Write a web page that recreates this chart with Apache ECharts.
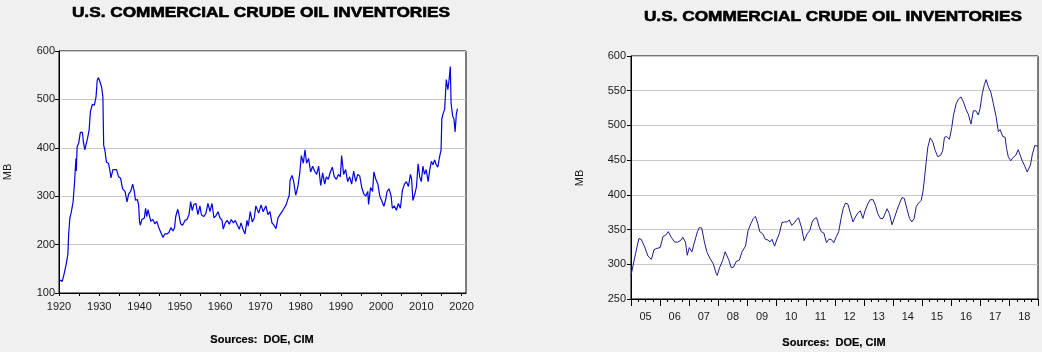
<!DOCTYPE html>
<html>
<head>
<meta charset="utf-8">
<script src="https://cdn.jsdelivr.net/npm/echarts@6/dist/echarts.min.js"></script>
<style>
html,body{margin:0;padding:0;background:#f0f0f0;}
#c{width:1042px;height:352px;}
</style>
</head>
<body>
<div id="c"></div>
<script>
// ---- DATA ----
const titleText = 'U.S. COMMERCIAL CRUDE OIL INVENTORIES';
const sourceText = 'Sources:  DOE, CIM';
const unitText = 'MB';

// Left chart: long history (decimal year, million barrels)
const longYears = [
1920.0,1920.4,1920.8,1921.2,1921.6,1921.8,1922.2,1922.4,1922.7,1923.0,1923.3,1923.5,1923.9,1924.2,1924.3,1924.5,1924.9,1925.3,1925.8,1926.1,
1926.4,1926.8,1927.1,1927.5,1927.8,1928.3,1928.8,1929.2,1929.5,1929.8,1930.2,1930.6,1930.9,1931.1,1931.4,1931.8,1932.3,1932.7,1932.9,1933.4,
1933.7,1934.3,1934.8,1935.3,1935.8,1936.4,1936.9,1937.3,1937.8,1938.3,1938.7,1939.0,1939.5,1939.8,1940.0,1940.2,1940.6,1941.2,1941.5,1941.8,
1942.1,1942.3,1942.8,1943.3,1943.8,1944.3,1944.8,1945.3,1945.8,1946.3,1946.8,1947.3,1947.8,1948.3,1948.7,1949.0,1949.5,1949.8,1950.2,1950.7,
1951.0,1951.3,1951.8,1952.3,1952.7,1953.1,1953.5,1954.0,1954.5,1955.0,1955.3,1955.5,1956.0,1956.5,1957.0,1957.5,1958.0,1958.5,1959.0,1959.5,
1960.0,1960.5,1960.8,1961.3,1961.8,1962.3,1962.8,1963.3,1963.8,1964.3,1964.8,1965.2,1965.7,1966.2,1966.7,1967.0,1967.5,1968.0,1968.5,1968.9,
1969.6,1970.2,1970.7,1971.4,1971.9,1972.4,1972.9,1973.4,1973.9,1974.4,1974.9,1975.4,1975.9,1976.4,1976.9,1977.2,1977.4,1977.9,1978.3,1978.8,
1979.3,1979.8,1980.2,1980.7,1981.1,1981.5,1982.0,1982.5,1983.0,1983.5,1984.0,1984.5,1985.0,1985.5,1986.0,1986.4,1986.9,1987.4,1987.9,1988.4,
1988.9,1989.4,1989.9,1990.2,1990.7,1991.2,1991.7,1992.2,1992.7,1993.2,1993.7,1994.2,1994.7,1995.2,1995.7,1996.2,1996.7,1996.9,1997.4,1997.9,
1998.2,1998.7,1999.2,1999.7,2000.2,2000.7,2001.2,2001.5,2002.0,2002.5,2002.8,2003.3,2003.8,2004.3,2004.8,2005.3,2005.8,2006.3,2006.8,2007.3,
2007.6,2007.9,2008.4,2008.8,2009.2,2009.6,2010.0,2010.4,2010.8,2011.2,2011.7,2012.1,2012.5,2012.9,2013.3,2013.7,2014.1,2014.5,2014.9,2015.1,
2015.4,2015.8,2016.2,2016.6,2016.9,2017.2,2017.4,2017.8,2018.1,2018.4,2018.7,2019.0];
const longValues = [
128,130,124,137,140,160,180,222,255,265,264,288,333,378,352,402,410,432,432,410,
396,400,420,438,475,490,488,505,540,545,536,525,505,405,395,370,368,350,338,355,
358,355,340,337,315,310,288,305,310,325,310,292,293,280,248,240,252,255,275,258,
272,268,248,252,243,248,235,225,215,222,222,225,235,228,235,258,273,262,243,240,
237,250,252,262,289,270,283,285,262,280,265,260,258,265,285,268,285,255,260,268,
255,250,232,245,250,242,252,245,250,240,232,245,232,222,250,238,268,247,255,280,
265,282,268,280,262,268,245,240,233,255,262,268,275,282,295,302,333,343,330,302,
318,347,384,368,396,368,378,350,362,352,345,362,322,348,325,340,335,350,360,340,
335,345,340,384,345,355,330,340,325,352,330,345,342,318,305,300,310,283,318,310,
350,335,325,300,290,279,295,310,315,300,275,280,271,285,275,312,325,330,320,345,
335,291,305,320,367,340,330,362,345,355,330,355,372,365,375,365,360,380,395,460,
470,480,541,520,540,568,491,465,460,433,470,481];

// Right chart: 2005-2018 detail (decimal year, million barrels)
const recentYears = [
2005.00,2005.06,2005.16,2005.27,2005.35,2005.47,2005.58,2005.70,2005.79,2005.89,2006.00,2006.10,2006.19,2006.28,2006.38,2006.50,2006.61,2006.72,2006.78,2006.87,
2006.93,2007.00,2007.09,2007.18,2007.28,2007.35,2007.43,2007.52,2007.61,2007.72,2007.83,2007.92,2007.96,2008.04,2008.15,2008.23,2008.29,2008.36,2008.44,2008.52,
2008.61,2008.72,2008.81,2008.93,2009.02,2009.12,2009.20,2009.27,2009.35,2009.42,2009.52,2009.61,2009.70,2009.77,2009.84,2009.93,2010.00,2010.09,2010.18,2010.27,
2010.37,2010.43,2010.52,2010.61,2010.68,2010.75,2010.86,2010.94,2011.05,2011.14,2011.22,2011.30,2011.37,2011.46,2011.53,2011.62,2011.71,2011.79,2011.87,2011.96,
2012.05,2012.13,2012.21,2012.28,2012.36,2012.44,2012.53,2012.62,2012.70,2012.79,2012.87,2012.96,2013.04,2013.13,2013.21,2013.31,2013.39,2013.47,2013.56,2013.65,
2013.73,2013.79,2013.87,2013.96,2014.05,2014.13,2014.22,2014.30,2014.38,2014.47,2014.56,2014.64,2014.72,2014.79,2014.87,2014.96,2015.02,2015.08,2015.13,2015.19,
2015.27,2015.36,2015.44,2015.53,2015.63,2015.70,2015.76,2015.84,2015.93,2016.01,2016.07,2016.16,2016.24,2016.33,2016.41,2016.50,2016.58,2016.67,2016.75,2016.84,
2016.92,2016.98,2017.06,2017.13,2017.19,2017.27,2017.35,2017.44,2017.53,2017.61,2017.67,2017.76,2017.84,2017.89,2017.95,2018.03,2018.12,2018.21,2018.29,2018.35,
2018.43,2018.52,2018.60,2018.66,2018.71,2018.78,2018.86,2018.97];
const recentValues = [
284,296,316,337,336,325,312,307,321,323,324,340,342,347,339,332,332,335,339,332,
313,324,318,332,347,353,352,332,317,308,300,287,284,295,306,318,319,306,295,296,
304,306,318,326,349,359,366,369,359,347,344,336,335,332,336,326,335,344,360,361,
361,364,356,360,364,367,352,334,344,349,361,366,367,354,347,345,331,336,336,331,
340,347,366,380,388,387,374,361,368,374,377,366,378,387,393,393,385,373,366,366,
374,380,373,357,368,378,388,396,395,380,366,361,366,383,388,392,404,426,447,469,
482,476,464,455,457,464,483,484,480,497,515,531,538,541,534,523,516,502,521,521,
515,524,546,559,566,555,548,531,513,491,494,484,483,467,455,449,454,457,465,465,
449,441,433,435,443,459,471,470];

// Tick values
const longYMin = 100, longYMax = 600, longYStep = 100;
const longXMin = 1920, longXMax = 2021.1, longXStep = 5;
const recentYMin = 250, recentYMax = 600, recentYStep = 50;
const recentXMin = 2005, recentXMax = 2018.97;

// ---- CHART ----
const longData = longYears.map((y, i) => [y, longValues[i]]);
const recentData = recentYears.map((y, i) => [y, recentValues[i]]);

const FONT = '"Liberation Sans", Arial, sans-serif';
const labelStyle = { color: '#1a1a1a', fontSize: 11, fontFamily: FONT };
const black = { color: '#000', width: 1 };

const chart = echarts.init(document.getElementById('c'), null, { renderer: 'canvas' });

function titleEl(x, y, txt, size, scaleX, strokeW) {
  return {
    type: 'text', x: x, y: y, scaleX: scaleX || 1, silent: true,
    style: { x: 0, y: 0, text: txt, fill: '#000', stroke: '#000', lineWidth: strokeW,
             font: 'bold ' + size + 'px ' + FONT,
             textAlign: 'center', textVerticalAlign: 'middle' }
  };
}

chart.setOption({
  animation: false,
  backgroundColor: '#f0f0f0',
  grid: [
    { left: 59, top: 51, width: 407, height: 242, show: true, backgroundColor: '#fff', borderColor: '#000', borderWidth: 1 },
    { left: 631, top: 56, width: 407, height: 243, show: true, backgroundColor: '#fff', borderColor: '#000', borderWidth: 1 }
  ],
  xAxis: [
    { type: 'value', gridIndex: 0, position: 'bottom', min: longXMin, max: longXMax, interval: longXStep,
      axisLine: { show: true, lineStyle: black }, axisTick: { show: true, length: 3, lineStyle: black },
      splitLine: { show: false }, axisLabel: Object.assign({ margin: 8, showMaxLabel: false,
        formatter: v => (Math.abs(v % 10) < 1e-6 ? String(v) : '') }, labelStyle) },
    { type: 'value', gridIndex: 1, position: 'bottom', min: recentXMin, max: recentXMax, interval: 1,
      axisLine: { show: true, lineStyle: black }, axisTick: { show: true, length: 7, lineStyle: black },
      minorTick: { show: true, splitNumber: 4, length: 3, lineStyle: black },
      splitLine: { show: false }, axisLabel: { show: false } },
    { type: 'value', gridIndex: 1, position: 'bottom', min: recentXMin, max: recentXMax, interval: 0.5,
      axisLine: { show: false }, axisTick: { show: false }, splitLine: { show: false },
      axisLabel: Object.assign({ margin: 12, showMaxLabel: false, showMinLabel: false,
        formatter: v => {
          const f = v - Math.floor(v);
          if (Math.abs(f - 0.5) > 1e-6) return '';
          const yy = Math.floor(v) % 100;
          return (yy < 10 ? '0' : '') + yy;
        } }, labelStyle) }
  ],
  yAxis: [
    { type: 'value', gridIndex: 0, min: longYMin, max: longYMax, interval: longYStep,
      axisLine: { show: true, lineStyle: black }, axisTick: { show: true, length: 4, lineStyle: black },
      splitLine: { show: true, lineStyle: { color: '#c8c8c8', width: 1 } },
      axisLabel: Object.assign({ margin: 4 }, labelStyle) },
    { type: 'value', gridIndex: 1, min: recentYMin, max: recentYMax, interval: recentYStep,
      axisLine: { show: true, lineStyle: black }, axisTick: { show: true, length: 4, lineStyle: black },
      splitLine: { show: true, lineStyle: { color: '#c8c8c8', width: 1 } },
      axisLabel: Object.assign({ margin: 5 }, labelStyle) }
  ],
  series: [
    { type: 'line', xAxisIndex: 0, yAxisIndex: 0, data: longData, showSymbol: false, symbol: 'none',
      lineStyle: { color: '#0000e6', width: 1.2 }, z: 3 },
    { type: 'line', xAxisIndex: 1, yAxisIndex: 1, data: recentData, showSymbol: false, symbol: 'none',
      lineStyle: { color: '#1c1c8e', width: 1 }, z: 3 }
  ],
  graphic: [
    titleEl(261, 13, titleText, 15, 1.15, 0.6),
    titleEl(833, 17, titleText, 15, 1.15, 0.6),
    titleEl(262, 340, sourceText, 11, 1, 0.2),
    titleEl(834, 343, sourceText, 11, 1, 0.2),
    { type: 'text', x: 8, y: 172, rotation: Math.PI / 2, silent: true,
      style: { x: 0, y: 0, text: unitText, fill: '#1a1a1a', font: '11px ' + FONT, textAlign: 'center', textVerticalAlign: 'middle' } },
    { type: 'text', x: 580, y: 178, rotation: Math.PI / 2, silent: true,
      style: { x: 0, y: 0, text: unitText, fill: '#1a1a1a', font: '11px ' + FONT, textAlign: 'center', textVerticalAlign: 'middle' } }
  ]
});
</script>
</body>
</html>
